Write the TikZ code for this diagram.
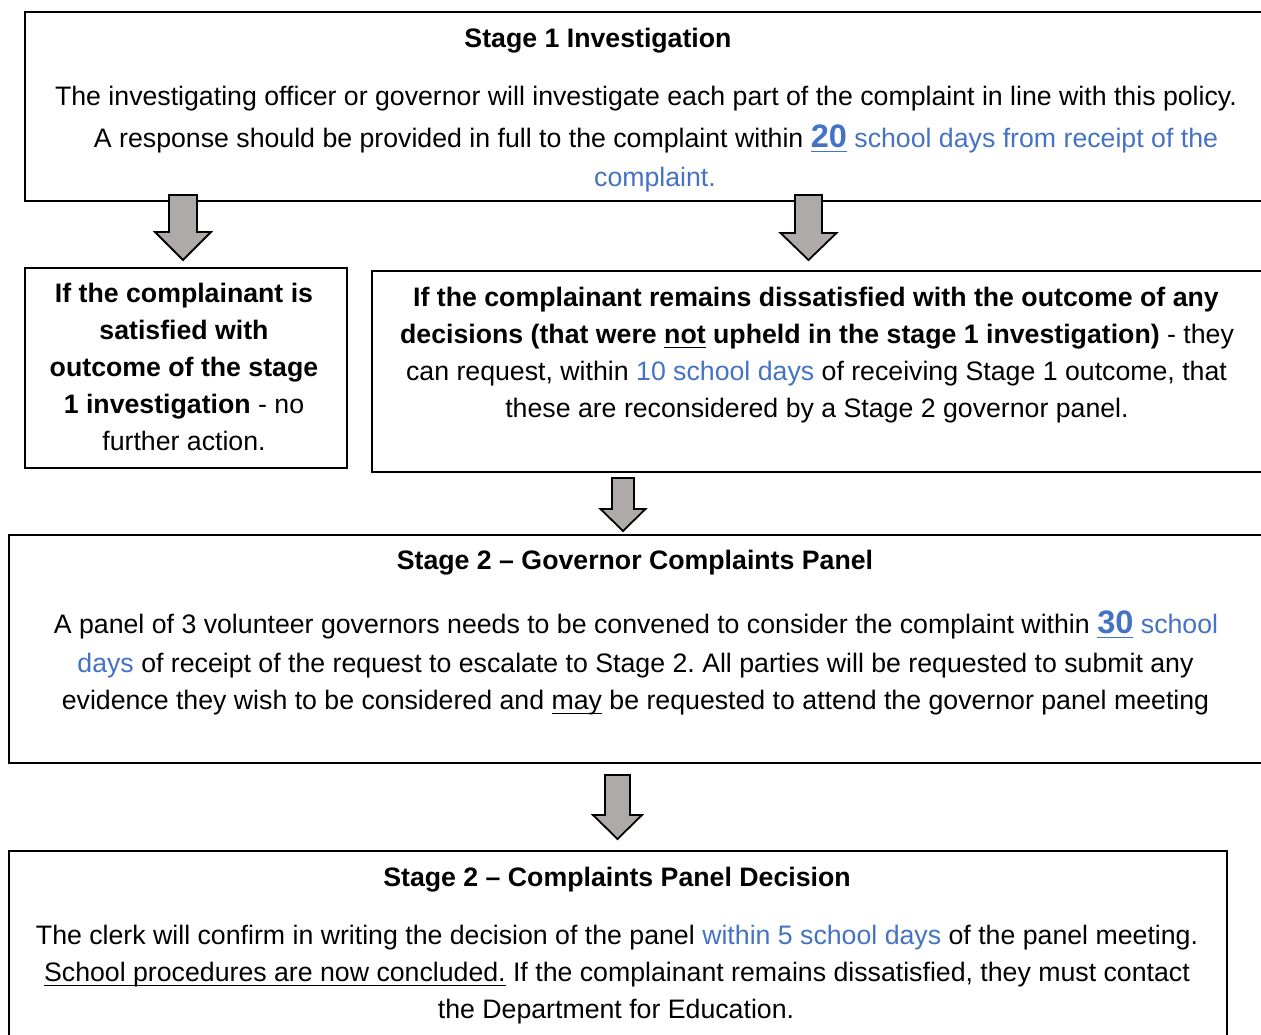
\documentclass[tikz,border=0pt]{standalone}
\usepackage{fontspec}
\setmainfont{Liberation Sans}
\frenchspacing
\definecolor{lnk}{RGB}{68,114,196}
\definecolor{arrfill}{RGB}{174,170,170}
\newcommand\undl[1]{\setbox0\hbox{#1}\rlap{\vrule width\wd0 height -3.5pt depth 5.3pt}\box0\relax}
\newcommand\bignum[1]{{\fontsize{32.5}{36}\selectfont\bfseries\color{lnk}\undl{#1}}}
\newcommand\blkarrow[6]{%
  \draw[barrow] ({#1-#5},#2) -- ({#1+#5},#2) -- ({#1+#5},#3) -- ({#1+#6},#3)
    -- (#1,#4) -- ({#1-#6},#3) -- ({#1-#5},#3) -- cycle;}
\begin{document}
\begin{tikzpicture}[x=1pt,y=-1pt,
  box/.style={draw,line width=2pt,anchor=north west,inner sep=0pt},
  txt/.style={inner sep=0pt,anchor=base,font=\fontsize{26.7}{30}\selectfont},
  barrow/.style={draw,line width=1.8pt,fill=arrfill,line join=miter}]
\useasboundingbox (0,0) rectangle (1261,1034);
\clip (0,0) rectangle (1261,1034);
% boxes
\node[box,minimum width=1300pt,minimum height=189pt] (s1) at (24,11) {};
\node[box,minimum width=322pt,minimum height=200pt] (sat) at (24,267) {};
\node[box,minimum width=950pt,minimum height=201pt] (dis) at (371,270) {};
\node[box,minimum width=1300pt,minimum height=228pt] (s2) at (8,534) {};
\node[box,minimum width=1218pt,minimum height=220pt] (dec) at (8,850) {};
% block arrows
\blkarrow{183}{195}{232}{260}{14}{28}
\blkarrow{808.5}{195}{233}{260}{13.5}{28}
\blkarrow{623}{478}{509}{531}{11}{22.5}
\blkarrow{617.5}{775}{815}{839}{12.5}{24.5}
% Stage 1 text
\node[txt] (t1a) at (598,47) {\bfseries Stage 1 Investigation};
\node[txt] (t1b) at (646,105) {The investigating officer or governor will investigate each part of the complaint in line with this policy.};
\node[txt] (t1c) at (656,147) {A response should be provided in full to the complaint within \bignum{20} {\color{lnk}school days from receipt of the}};
\node[txt] (t1d) at (655,186) {\color{lnk}complaint.};
% satisfied
\node[txt] (l1) at (184,302) {\bfseries If the complainant is};
\node[txt] (l2) at (184,339) {\bfseries satisfied with};
\node[txt] (l3) at (184,376) {\bfseries outcome of the stage};
\node[txt] (l4) at (184,413) {{\bfseries 1 investigation} - no};
\node[txt] (l5) at (184,450) {further action.};
% dissatisfied
\node[txt] (r1) at (816,306) {\bfseries If the complainant remains dissatisfied with the outcome of any};
\node[txt] (r2) at (817,343) {{\bfseries decisions (that were \undl{not} upheld in the stage 1 investigation)} - they};
\node[txt] (r3) at (816.5,380) {can request, within {\color{lnk}10 school days} of receiving Stage 1 outcome, that};
\node[txt] (r4) at (817,417) {these are reconsidered by a Stage 2 governor panel.};
% Stage 2 panel
\node[txt] (p1) at (635,569) {\bfseries Stage 2 -- Governor Complaints Panel};
\node[txt] (p2) at (636,633) {A panel of 3 volunteer governors needs to be convened to consider the complaint within \bignum{30} {\color{lnk}school}};
\node[txt] (p3) at (635.5,672) {{\color{lnk}days} of receipt of the request to escalate to Stage 2. All parties will be requested to submit any};
\node[txt] (p4) at (635.5,709) {evidence they wish to be considered and \undl{may} be requested to attend the governor panel meeting};
% decision
\node[txt] (d1) at (617,886) {\bfseries Stage 2 -- Complaints Panel Decision};
\node[txt] (d2) at (617,944) {The clerk will confirm in writing the decision of the panel {\color{lnk}within 5 school days} of the panel meeting.};
\node[txt] (d3) at (617,981) {\undl{School procedures are now concluded.} If the complainant remains dissatisfied, they must contact};
\node[txt] (d4) at (616,1018) {the Department for Education.};
\end{tikzpicture}
\end{document}
